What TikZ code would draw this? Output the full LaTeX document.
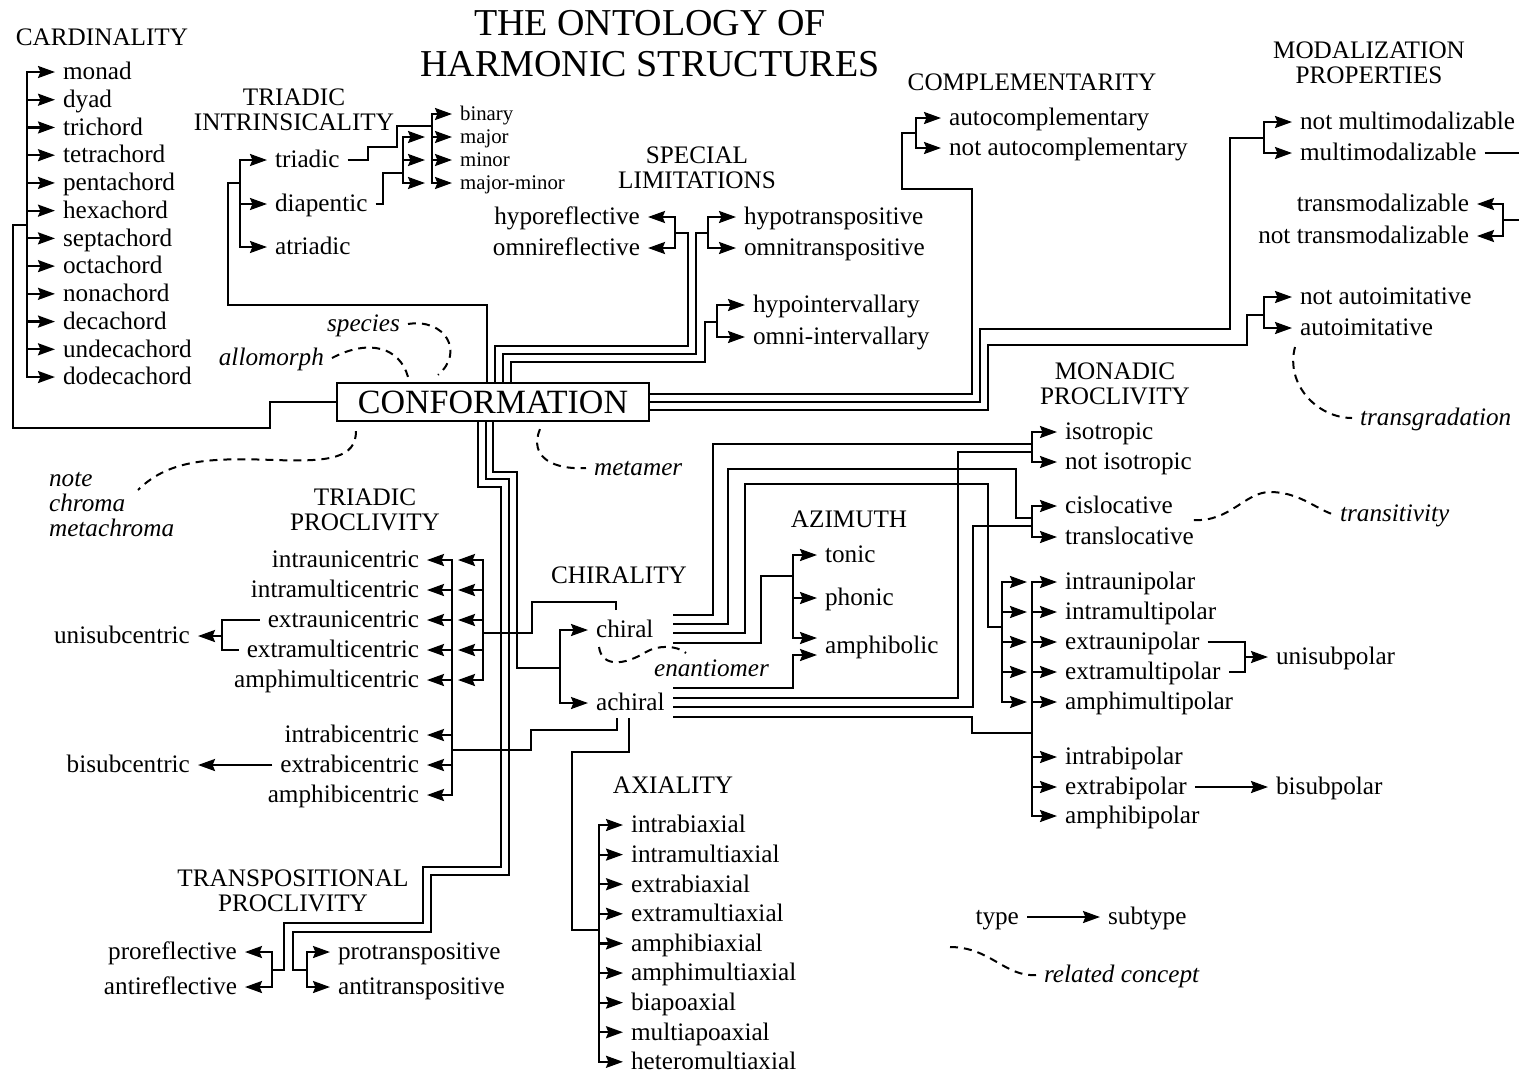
\documentclass[tikz,border=0pt]{standalone}
\usepackage{fontspec}
\setmainfont{Liberation Serif}
\usetikzlibrary{arrows.meta,calc}

\begin{document}
\begin{tikzpicture}[x=0.5pt,y=-0.5pt,line width=1.1pt,
  leaf/.style={anchor=west,inner xsep=3.5pt,inner ysep=0pt,text height=9pt,text depth=1.2pt,font=\fontsize{12.6}{14}\selectfont},
  leafL/.style={leaf,anchor=east},
  leafS/.style={leaf,text height=7.4pt,text depth=1pt,font=\fontsize{10.4}{12}\selectfont},
  relTxt/.style={leaf,font=\fontsize{12.6}{14}\selectfont\itshape},
  catname/.style={align=center,inner sep=0pt,font=\fontsize{12.6}{12.5}\selectfont},
  toSub/.style={-{Stealth[length=8.5pt,width=6pt,inset=1.2pt]}},
  relLine/.style={line width=1pt,dash pattern=on 4pt off 3pt}]

\useasboundingbox (0,0) rectangle (1519,1077);

% title and category names
\node[catname,font=\fontsize{19}{20.5}\selectfont] (title) at (650,44) {THE ONTOLOGY OF\\HARMONIC STRUCTURES};
\node[catname] (cardName) at (102,37) {CARDINALITY};
\node[catname] (intrName) at (294,110) {TRIADIC\\INTRINSICALITY};
\node[catname] (limName) at (697,168) {SPECIAL\\LIMITATIONS};
\node[catname] (compName) at (1032,82) {COMPLEMENTARITY};
\node[catname] (modName) at (1369,63) {MODALIZATION\\PROPERTIES};
\node[catname] (monName) at (1115,384) {MONADIC\\PROCLIVITY};
\node[catname] (triName) at (365,510) {TRIADIC\\PROCLIVITY};
\node[catname] (chirName) at (619,575) {CHIRALITY};
\node[catname] (aziName) at (849,519) {AZIMUTH};
\node[catname] (axName) at (673,785) {AXIALITY};
\node[catname] (trpName) at (293,891) {TRANSPOSITIONAL\\PROCLIVITY};

\node[draw,minimum width=156pt,minimum height=19pt,inner sep=0pt,font=\fontsize{17}{19}\selectfont] (conf) at (493,402) {CONFORMATION};

% cardinality
\foreach \nm [count=\i] in {monad,dyad,trichord,tetrachord,pentachord,hexachord,septachord,octachord,nonachord,decachord,undecachord,dodecachord}
  \node[leaf] (\nm) at (55,{72+27.73*(\i-1)}) {\nm};
\draw (conf.west) -- (270,402) -- (270,428) -- (13,428) -- (13,225) -- (27,225);
\draw[toSub] (27,225) |- (monad.west);
\draw[toSub] (27,225) |- (dodecachord.west);
\foreach \nm in {dyad,trichord,tetrachord,pentachord,hexachord,septachord,octachord,nonachord,decachord,undecachord}
  \draw[toSub] (27,0 |- \nm.west) -- (\nm.west);

% triadic intrinsicality
\node[leaf] (triadic) at (267,160) {triadic};
\node[leaf] (diapentic) at (267,204) {diapentic};
\node[leaf] (atriadic) at (267,247) {atriadic};
\node[leafS] (binary) at (452,114) {binary};
\node[leafS] (major) at (452,137) {major};
\node[leafS] (minor) at (452,160) {minor};
\node[leafS] (majmin) at (452,183) {major-minor};
\draw (conf.north -| 487,0) -- (487,305) -- (228,305) -- (228,183) -- (240,183);
\draw[toSub] (240,183) |- (triadic.west);
\draw[toSub] (240,183) |- (atriadic.west);
\draw[toSub] (240,0 |- diapentic.west) -- (diapentic.west);
\draw (triadic.east) -| (368,147) -| (397,126) -- (432,126);
\draw[toSub] (432,126) |- (binary.west);
\draw[toSub] (432,126) |- (majmin.west);
\foreach \nm in {major,minor}
  \draw[toSub] (432,0 |- \nm.west) -- (\nm.west);
\draw (diapentic.east) -| (383,173) -- (403,173);
\draw[toSub] (403,173) |- (major.west -| 425,0);
\draw[toSub] (403,173) |- (majmin.west -| 425,0);
\draw[toSub] (403,0 |- minor.west) -- (minor.west -| 425,0);

% special limitations
\node[leafL] (hyporefl) at (648,217) {hyporeflective};
\node[leafL] (omnirefl) at (648,248) {omnireflective};
\node[leaf] (hypotr) at (736,217) {hypotranspositive};
\node[leaf] (omnitr) at (736,248) {omnitranspositive};
\node[leaf] (hypoint) at (745,305) {hypointervallary};
\node[leaf] (omniint) at (745,337) {omni-intervallary};
\draw (conf.north -| 495,0) -- (495,346) -- (688,346) -- (688,233) -- (675,233);
\draw[toSub] (675,233) |- (hyporefl.east);
\draw[toSub] (675,233) |- (omnirefl.east);
\draw (conf.north -| 503,0) -- (503,354) -- (696,354) -- (696,233) -- (708,233);
\draw[toSub] (708,233) |- (hypotr.west);
\draw[toSub] (708,233) |- (omnitr.west);
\draw (conf.north -| 511,0) -- (511,362) -- (705,362) -- (705,322) -- (717,322);
\draw[toSub] (717,322) |- (hypoint.west);
\draw[toSub] (717,322) |- (omniint.west);

% complementarity and modalization
\node[leaf] (autocomp) at (941,118) {autocomplementary};
\node[leaf] (notautocomp) at (941,148) {not autocomplementary};
\node[leaf] (notmulti) at (1292,122) {not multimodalizable};
\node[leaf] (multi) at (1292,153) {multimodalizable};
\node[leafL] (transmod) at (1477,204) {transmodalizable};
\node[leafL] (nottransmod) at (1477,236) {not transmodalizable};
\node[leaf] (notautoim) at (1292,297) {not autoimitative};
\node[leaf] (autoim) at (1292,328) {autoimitative};
\draw (conf.east |- 0,394) -- (972,394) -- (972,189) -- (902,189) -- (902,133) -- (916,133);
\draw[toSub] (916,133) |- (autocomp.west);
\draw[toSub] (916,133) |- (notautocomp.west);
\draw (conf.east |- 0,402) -- (980,402) -- (980,329) -- (1230,329) -- (1230,138) -- (1264,138);
\draw[toSub] (1264,138) |- (notmulti.west);
\draw[toSub] (1264,138) |- (multi.west);
\draw (conf.east |- 0,410) -- (988,410) -- (988,345) -- (1247,345) -- (1247,315) -- (1264,315);
\draw[toSub] (1264,315) |- (notautoim.west);
\draw[toSub] (1264,315) |- (autoim.west);
\draw (multi.east) -- (1524,153) -- (1524,220) -- (1503,220);
\draw[toSub] (1503,220) |- (transmod.east);
\draw[toSub] (1503,220) |- (nottransmod.east);

% chirality
\node[leaf] (chiral) at (588,630) {chiral};
\node[leaf] (achiral) at (588,703) {achiral};
\draw (conf.south -| 493,0) -- (493,472) -- (517,472) -- (517,668) -- (560,668);
\draw[toSub] (560,668) |- (chiral.west);
\draw[toSub] (560,668) |- (achiral.west);

% triadic proclivity
\foreach \nm/\yy in {intraunicentric/560,intramulticentric/590,extraunicentric/620,extramulticentric/650,amphimulticentric/680,intrabicentric/735,extrabicentric/765,amphibicentric/795}
  \node[leafL] (\nm) at (427,\yy) {\nm};
\node[leafL] (unisubcentric) at (198,636) {unisubcentric};
\node[leafL] (bisubcentric) at (198,765) {bisubcentric};
\draw ($(chiral.west)+(28,-20)$) -- (616,602) -- (532,602) -- (532,633) -- (483,633);
\draw[toSub] (483,633) |- (intraunicentric.east -| 458,0);
\draw[toSub] (483,633) |- (amphimulticentric.east -| 458,0);
\foreach \nm in {intramulticentric,extraunicentric,extramulticentric}
  \draw[toSub] (483,0 |- \nm.east) -- (\nm.east -| 458,0);
\draw ($(achiral.west)+(29,15)$) -- (617,730) -- (531,730) -- (531,750) -- (452,750);
\draw[toSub] (452,750) |- (intraunicentric.east);
\draw[toSub] (452,750) |- (amphibicentric.east);
\foreach \nm in {intramulticentric,extraunicentric,extramulticentric,amphimulticentric,intrabicentric,extrabicentric}
  \draw[toSub] (452,0 |- \nm.east) -- (\nm.east);
\draw (extraunicentric.west) -| (222,636) |- (extramulticentric.west);
\draw[toSub] (222,636) -- (unisubcentric.east);
\draw[toSub] (extrabicentric.west) -- (bisubcentric.east);

% axiality
\foreach \nm [count=\i] in {intrabiaxial,intramultiaxial,extrabiaxial,extramultiaxial,amphibiaxial,amphimultiaxial,biapoaxial,multiapoaxial,heteromultiaxial}
  \node[leaf] (\nm) at (623,{825+29.6*(\i-1)}) {\nm};
\draw ($(achiral.west)+(41,15)$) -- (629,752) -- (572,752) -- (572,930) -- (599,930);
\draw[toSub] (599,930) |- (intrabiaxial.west);
\draw[toSub] (599,930) |- (heteromultiaxial.west);
\foreach \nm in {intramultiaxial,extrabiaxial,extramultiaxial,amphibiaxial,amphimultiaxial,biapoaxial,multiapoaxial}
  \draw[toSub] (599,0 |- \nm.west) -- (\nm.west);

% azimuth
\node[leaf] (tonic) at (817,555) {tonic};
\node[leaf] (phonic) at (817,598) {phonic};
\node[leaf] (amphibolic) at (817,646) {amphibolic};
\coordinate (amphUp) at (817,638);
\coordinate (amphLo) at (817,655);
\draw ($(chiral.west)+(85,13)$) -| (761,576) -- (793,576);
\draw[toSub] (793,576) |- (tonic.west);
\draw[toSub] (793,576) |- (amphUp);
\draw[toSub] (793,0 |- phonic.west) -- (phonic.west);
\draw[toSub] ($(achiral.west)+(85,-15)$) -| (793,655) -- (amphLo);

% monadic proclivity
\node[leaf] (isotropic) at (1057,432) {isotropic};
\node[leaf] (notiso) at (1057,462) {not isotropic};
\node[leaf] (cisloc) at (1057,506) {cislocative};
\node[leaf] (transloc) at (1057,537) {translocative};
\foreach \nm/\yy in {intraunipolar/582,intramultipolar/612,extraunipolar/642,extramultipolar/672,amphimultipolar/702,intrabipolar/757,extrabipolar/787,amphibipolar/816}
  \node[leaf] (\nm) at (1057,\yy) {\nm};
\node[leaf] (unisubpolar) at (1268,657) {unisubpolar};
\node[leaf] (bisubpolar) at (1268,787) {bisubpolar};
\draw ($(chiral.west)+(85,-15)$) -| (713,444) -- (1032,444);
\draw ($(chiral.west)+(85,-6)$) -| (728,469) -- (1016,469) -- (1016,518) -- (1032,518);
\draw ($(chiral.west)+(85,3)$) -| (745,484) -- (988,484) -- (988,627) -- (1002,627);
\draw ($(achiral.west)+(85,-5)$) -| (958,452) -- (1032,452);
\draw ($(achiral.west)+(85,4)$) -| (973,526) -- (1032,526);
\draw ($(achiral.west)+(85,14)$) -| (972,733) -- (1032,733);
\draw[toSub] (1032,448) |- (isotropic.west);
\draw[toSub] (1032,448) |- (notiso.west);
\draw[toSub] (1032,522) |- (cisloc.west);
\draw[toSub] (1032,522) |- (transloc.west);
\draw[toSub] (1002,627) |- (intraunipolar.west -| 1027,0);
\draw[toSub] (1002,627) |- (amphimultipolar.west -| 1027,0);
\foreach \nm in {intramultipolar,extraunipolar,extramultipolar}
  \draw[toSub] (1002,0 |- \nm.west) -- (\nm.west -| 1027,0);
\draw[toSub] (1032,733) |- (intraunipolar.west);
\draw[toSub] (1032,733) |- (amphibipolar.west);
\foreach \nm in {intramultipolar,extraunipolar,extramultipolar,amphimultipolar,intrabipolar,extrabipolar}
  \draw[toSub] (1032,0 |- \nm.west) -- (\nm.west);
\draw (extraunipolar.east) -| (1245,657) |- (extramultipolar.east);
\draw[toSub] (1245,657) -- (unisubpolar.west);
\draw[toSub] (extrabipolar.east) -- (bisubpolar.west);

% transpositional proclivity
\node[leafL] (prorefl) at (245,952) {proreflective};
\node[leafL] (antirefl) at (245,987) {antireflective};
\node[leaf] (protr) at (330,952) {protranspositive};
\node[leaf] (antitr) at (330,987) {antitranspositive};
\draw (conf.south -| 478,0) -- (478,487) -- (501,487) -- (501,867) -- (423,867) -- (423,923) -- (284,923) -- (284,970) -- (272,970);
\draw[toSub] (272,970) |- (prorefl.east);
\draw[toSub] (272,970) |- (antirefl.east);
\draw (conf.south -| 486,0) -- (486,479) -- (509,479) -- (509,875) -- (431,875) -- (431,932) -- (293,932) -- (293,970) -- (307,970);
\draw[toSub] (307,970) |- (protr.west);
\draw[toSub] (307,970) |- (antitr.west);

% related concepts
\node[relTxt,anchor=east] (species) at (408,324) {species};
\node[relTxt,anchor=east] (allomorph) at (332,358) {allomorph};
\node[align=left,inner sep=0pt,anchor=west,font=\fontsize{12.6}{12.5}\selectfont\itshape] (notes) at (48,505) {note\\chroma\\metachroma};
\node[relTxt] (metamer) at (586,468) {metamer};
\node[relTxt] (enantiomer) at (646,669) {enantiomer};
\node[relTxt] (transgr) at (1352,418) {transgradation};
\node[relTxt] (transit) at (1332,514) {transitivity};
\coordinate (noteEnd) at (138,490);
\coordinate (enEnd) at (686,653);
\draw[relLine] (species.east) .. controls (445,318) and (465,352) .. ($(conf.north)+(-55,-7)$);
\draw[relLine] (allomorph.east) .. controls (370,338) and (400,348) .. ($(conf.north)+(-85,-5)$);
\draw[relLine] ($(conf.south)+(-137,9)$) .. controls (356,458) and (330,462) .. (275,460) .. controls (215,458) and (170,458) .. (noteEnd);
\draw[relLine] ($(conf.south)+(47,7)$) .. controls (528,458) and (555,470) .. (metamer.west);
\draw[relLine] ($(chiral.west)+(11,17)$) .. controls (602,668) and (625,665) .. (646,652) .. controls (658,645) and (676,645) .. (enEnd);
\draw[relLine] ($(autoim.west)+(3,19)$) .. controls (1285,385) and (1318,418) .. (transgr.west);
\draw[relLine] ($(transloc.east)+(-8,-17)$) .. controls (1230,522) and (1245,492) .. (1270,492) .. controls (1298,492) and (1315,508) .. (transit.west);

% legend
\node[leafL] (type) at (1027,917) {type};
\node[leaf] (subtype) at (1100,917) {subtype};
\draw[toSub] (type.east) -- (subtype.west);
\node[relTxt] (relc) at (1036,975) {related concept};
\coordinate (legDash) at (950,947);
\draw[relLine] (legDash) .. controls (990,947) and (1005,977) .. (relc.west);
\end{tikzpicture}
\end{document}
